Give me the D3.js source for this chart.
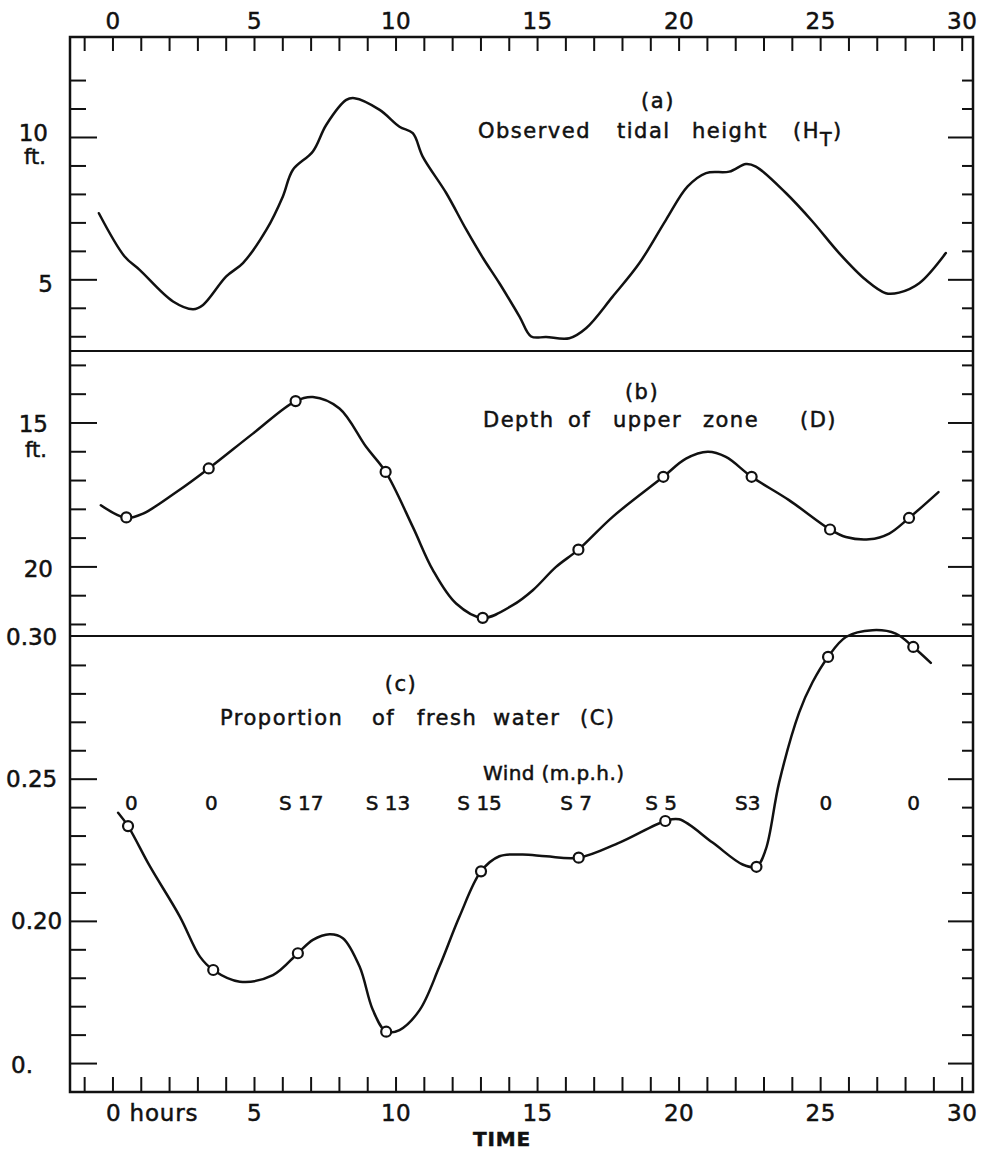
<!DOCTYPE html>
<html>
<head>
<meta charset="utf-8">
<title>Tide, depth and fresh water</title>
<script src="https://d3js.org/d3.v7.min.js"></script>
<style>
  body { margin: 0; background: #fff; }
  svg text { font-family: "DejaVu Sans", "Liberation Sans", sans-serif; fill: #111; stroke: #111; stroke-width: 0.5px; }
</style>
</head>
<body>
<svg id="chart" width="983" height="1152"></svg>
<script>
// ---- data ----
const hourTicks = d3.range(-1, 31);
const hourLabels = [0, 5, 10, 15, 20, 25, 30];

// (a) observed tidal height, ft
const tideHours  = [-0.48, 0.43, 0.96, 2.14, 2.85, 3.2, 4.02, 4.61, 5.44, 6.02, 6.37, 7.08, 7.55, 8.26, 8.55, 9.44, 10.14, 10.61, 10.96, 11.79, 12.5, 13.1, 13.67, 14.38, 14.79, 15.32, 16.14, 16.73, 17.67, 18.61, 19.55, 20.32, 20.97, 21.79, 22.38, 22.73, 23.79, 24.73, 25.67, 26.61, 27.32, 27.79, 28.5, 29.44];
const tideHeight = [7.34, 5.82, 5.35, 4.24, 3.97, 4.12, 5.12, 5.59, 6.76, 7.93, 8.86, 9.51, 10.44, 11.32, 11.38, 10.97, 10.38, 10.15, 9.33, 8.05, 6.76, 5.75, 4.88, 3.71, 3.01, 2.99, 2.95, 3.3, 4.41, 5.58, 7.1, 8.28, 8.75, 8.8, 9.07, 8.98, 8.05, 7.05, 5.94, 5.0, 4.53, 4.55, 4.88, 5.94];
const tideTicks = d3.range(3, 13);
const tideMajor = [5, 10];

// (b) depth of upper zone, ft (drawn curve and observations)
const depthCurveHours = [-0.41, 0.49, 1.08, 2.26, 3.4, 4.96, 6.47, 7.08, 8.02, 8.96, 9.65, 10.61, 11.32, 12.14, 13.08, 14.14, 14.85, 15.67, 16.46, 17.67, 19.46, 20.26, 21.03, 21.67, 22.58, 23.9, 25.35, 25.91, 26.73, 27.44, 28.14, 29.18];
const depthCurve      = [17.86, 18.3, 18.15, 17.4, 16.58, 15.37, 14.24, 14.1, 14.5, 15.83, 16.7, 18.61, 20.11, 21.27, 21.77, 21.33, 20.81, 20.0, 19.4, 18.26, 16.87, 16.24, 16.0, 16.18, 16.87, 17.68, 18.7, 18.96, 19.04, 18.84, 18.3, 17.4];
const depthObsHours = [0.49, 3.4, 6.47, 9.65, 13.08, 16.46, 19.46, 22.58, 25.35, 28.14];
const depthObs      = [18.28, 16.58, 14.24, 16.7, 21.77, 19.4, 16.87, 16.87, 18.7, 18.3];
const depthTicks = d3.range(13, 23);
const depthMajor = [15, 20];

// (c) proportion of fresh water
const freshCurveHours = [0.2, 0.55, 1.32, 2.38, 3.09, 3.56, 4.5, 5.67, 6.55, 7.08, 7.67, 8.14, 8.73, 9.2, 9.67, 10.14, 10.85, 11.55, 12.26, 13.02, 13.67, 14.49, 15.32, 16.47, 17.91, 19.53, 20.02, 21.2, 22.26, 22.75, 23.08, 23.55, 24.26, 24.73, 25.28, 25.91, 26.85, 27.67, 28.29, 28.91];
const freshCurve      = [0.2382, 0.2335, 0.2194, 0.2017, 0.1876, 0.1829, 0.1788, 0.1811, 0.1888, 0.1935, 0.1955, 0.1941, 0.1841, 0.1688, 0.1612, 0.1618, 0.1688, 0.1841, 0.2017, 0.2176, 0.2229, 0.2235, 0.2229, 0.2224, 0.2277, 0.2353, 0.2359, 0.2277, 0.22, 0.2192, 0.2253, 0.2488, 0.2735, 0.2841, 0.293, 0.3, 0.3024, 0.3012, 0.2965, 0.2909];
const freshObsHours = [0.55, 3.56, 6.55, 9.67, 13.02, 16.47, 19.53, 22.75, 25.28, 28.29];
const freshObs      = [0.2335, 0.1829, 0.1888, 0.1612, 0.2176, 0.2224, 0.2353, 0.2192, 0.293, 0.2965];
const freshTicks = d3.range(15, 30).map(d => d / 100);
const freshMajor = [0.15, 0.2, 0.25];
const freshLabels = ["0.", "0.20", "0.25", "0.30"];
const freshLabelValues = [0.15, 0.2, 0.25, 0.3];

// wind (m.p.h.)
const windHours  = [0.67, 3.49, 6.67, 9.73, 12.97, 16.38, 19.38, 22.44, 25.2, 28.3];
const windLabels = ["0", "0", "S 17", "S 13", "S 15", "S 7", "S 5", "S3", "0", "0"];

// ---- layout ----
const L = 70, R = 973, T = 37, B = 1092;
const sepAB = 351, sepBC = 636;
const ink = "#111";

const svg = d3.select("#chart");

const x = d3.scaleLinear().domain([-1.5, 30.4]).range([L, R]);
const yA = d3.scaleLinear().domain([2.5, 13.53]).range([sepAB, T]);
const yB = d3.scaleLinear().domain([12.5, 22.4]).range([sepAB, sepBC]);
const yC = d3.scaleLinear().domain([0.14, 0.3]).range([B, sepBC + 1]);

// frame and panel separators
svg.append("rect")
  .attr("x", L).attr("y", T).attr("width", R - L).attr("height", B - T)
  .attr("fill", "none").attr("stroke", ink).attr("stroke-width", 2.5);
[sepAB, sepBC].forEach(s => {
  svg.append("line").attr("x1", L).attr("x2", R).attr("y1", s).attr("y2", s)
    .attr("stroke", ink).attr("stroke-width", 2.2);
});

// top hour axis
const topAxis = d3.axisTop(x).tickValues(hourTicks).tickSizeInner(-14).tickSizeOuter(0)
  .tickPadding(8).tickFormat(d => hourLabels.includes(d) ? d : "");
const gTop = svg.append("g").attr("transform", `translate(0,${T})`).call(topAxis);

// bottom hour axis
const botAxis = d3.axisBottom(x).tickValues(hourTicks).tickSizeInner(-15).tickSizeOuter(0)
  .tickPadding(13).tickFormat(d => d === 0 ? "0 hours" : (hourLabels.includes(d) ? d : ""));
const gBot = svg.append("g").attr("transform", `translate(0,${B})`).call(botAxis);

[gTop, gBot].forEach(g => {
  g.select(".domain").remove();
  g.selectAll(".tick line").attr("stroke", ink).attr("stroke-width", 2);
  g.selectAll(".tick text").attr("font-size", 23).attr("letter-spacing", 0.5)
    .attr("font-family", "DejaVu Sans, sans-serif").attr("fill", ink);
});
gBot.selectAll(".tick text").filter(d => d === 0)
  .attr("text-anchor", "start").attr("x", -7).attr("letter-spacing", 0.8);

svg.append("text").attr("x", 502).attr("y", 1146)
  .attr("text-anchor", "middle").attr("font-size", 20).attr("font-weight", "bold")
  .attr("letter-spacing", 0.8).text("TIME");

// side ticks for each panel
function sideTicks(scale, values, majors) {
  const isMajor = v => majors.some(m => Math.abs(m - v) < 1e-9);
  const g = svg.append("g").attr("stroke", ink).attr("stroke-width", 2);
  g.selectAll("line.l").data(values).join("line").attr("class", "l")
    .attr("x1", L).attr("x2", d => L + (isMajor(d) ? 27 : 16))
    .attr("y1", d => scale(d)).attr("y2", d => scale(d));
  g.selectAll("line.r").data(values).join("line").attr("class", "r")
    .attr("x1", R).attr("x2", d => R - (isMajor(d) ? 25 : 11))
    .attr("y1", d => scale(d)).attr("y2", d => scale(d));
}
sideTicks(yA, tideTicks, tideMajor);
sideTicks(yB, depthTicks, depthMajor);
sideTicks(yC, freshTicks, freshMajor);

// left value labels
function leftLabel(txt, yy, anchor, xx, fs) {
  svg.append("text").attr("x", xx).attr("y", yy).attr("text-anchor", anchor)
    .attr("font-size", fs || 23).text(txt);
}
leftLabel("10", yA(10) + 4, "end", 48);
leftLabel("ft.", yA(10) + 27, "end", 46, 21);
leftLabel("5", yA(5) + 12, "end", 53);
leftLabel("15", yB(15) + 9, "end", 48);
leftLabel("ft.", yB(15) + 34, "end", 47, 21);
leftLabel("20", yB(20) + 10, "end", 53);
freshLabels.forEach((t, i) => {
  const v = freshLabelValues[i];
  leftLabel(t, yC(v) + (v === 0.15 ? 9 : 8), "start", v >= 0.25 ? 6 : 11);
});

// panel titles: each word placed where it sits in the figure
function words(list, yy) {
  const t = svg.append("text").attr("y", yy).attr("font-size", 21).attr("letter-spacing", 1.5);
  list.forEach(([w, xx, dy, fs]) => {
    const s = t.append("tspan").text(w);
    if (xx != null) s.attr("x", xx);
    if (dy) s.attr("dy", dy);
    if (fs) s.attr("font-size", fs);
  });
}
function tag(txt, xx, yy) {
  svg.append("text").attr("x", xx).attr("y", yy).attr("text-anchor", "middle")
    .attr("font-size", 21).attr("letter-spacing", 1.5).text(txt);
}
tag("(a)", 658, 108);
words([["Observed", 478], ["tidal", 617], ["height", 692], ["(H", 793], ["T", null, 8, 19], [")", null, -8]], 138);

tag("(b)", 642, 399);
words([["Depth", 483], ["of", 568], ["upper", 613], ["zone", 703], ["(D)", 800]], 427);

tag("(c)", 401, 691);
words([["Proportion", 220], ["of", 372], ["fresh", 417], ["water", 493], ["(C)", 580]], 725);

svg.append("text").attr("x", 483).attr("y", 780).attr("font-size", 20)
  .attr("letter-spacing", 0.4).text("Wind (m.p.h.)");
svg.selectAll("text.wind").data(windLabels).join("text").attr("class", "wind")
  .attr("x", (d, i) => x(windHours[i])).attr("y", 810).attr("text-anchor", "middle")
  .attr("font-size", 20).text(d => d);

// curves
const lineOf = ys => d3.line().x(d => x(d[0])).y(d => ys(d[1])).curve(d3.curveCatmullRom.alpha(0.5));
const curves = [
  [d3.zip(tideHours, tideHeight), yA],
  [d3.zip(depthCurveHours, depthCurve), yB],
  [d3.zip(freshCurveHours, freshCurve), yC]
];
curves.forEach(([pts, ys]) => {
  svg.append("path").datum(pts).attr("d", lineOf(ys))
    .attr("fill", "none").attr("stroke", ink).attr("stroke-width", 2.5)
    .attr("stroke-linejoin", "round").attr("stroke-linecap", "round");
});

// observation circles
const obs = [
  [d3.zip(depthObsHours, depthObs), yB],
  [d3.zip(freshObsHours, freshObs), yC]
];
obs.forEach(([pts, ys]) => {
  svg.append("g").selectAll("circle").data(pts).join("circle")
    .attr("cx", d => x(d[0])).attr("cy", d => ys(d[1])).attr("r", 5)
    .attr("fill", "#fff").attr("stroke", ink).attr("stroke-width", 2.2);
});
</script>
</body>
</html>
